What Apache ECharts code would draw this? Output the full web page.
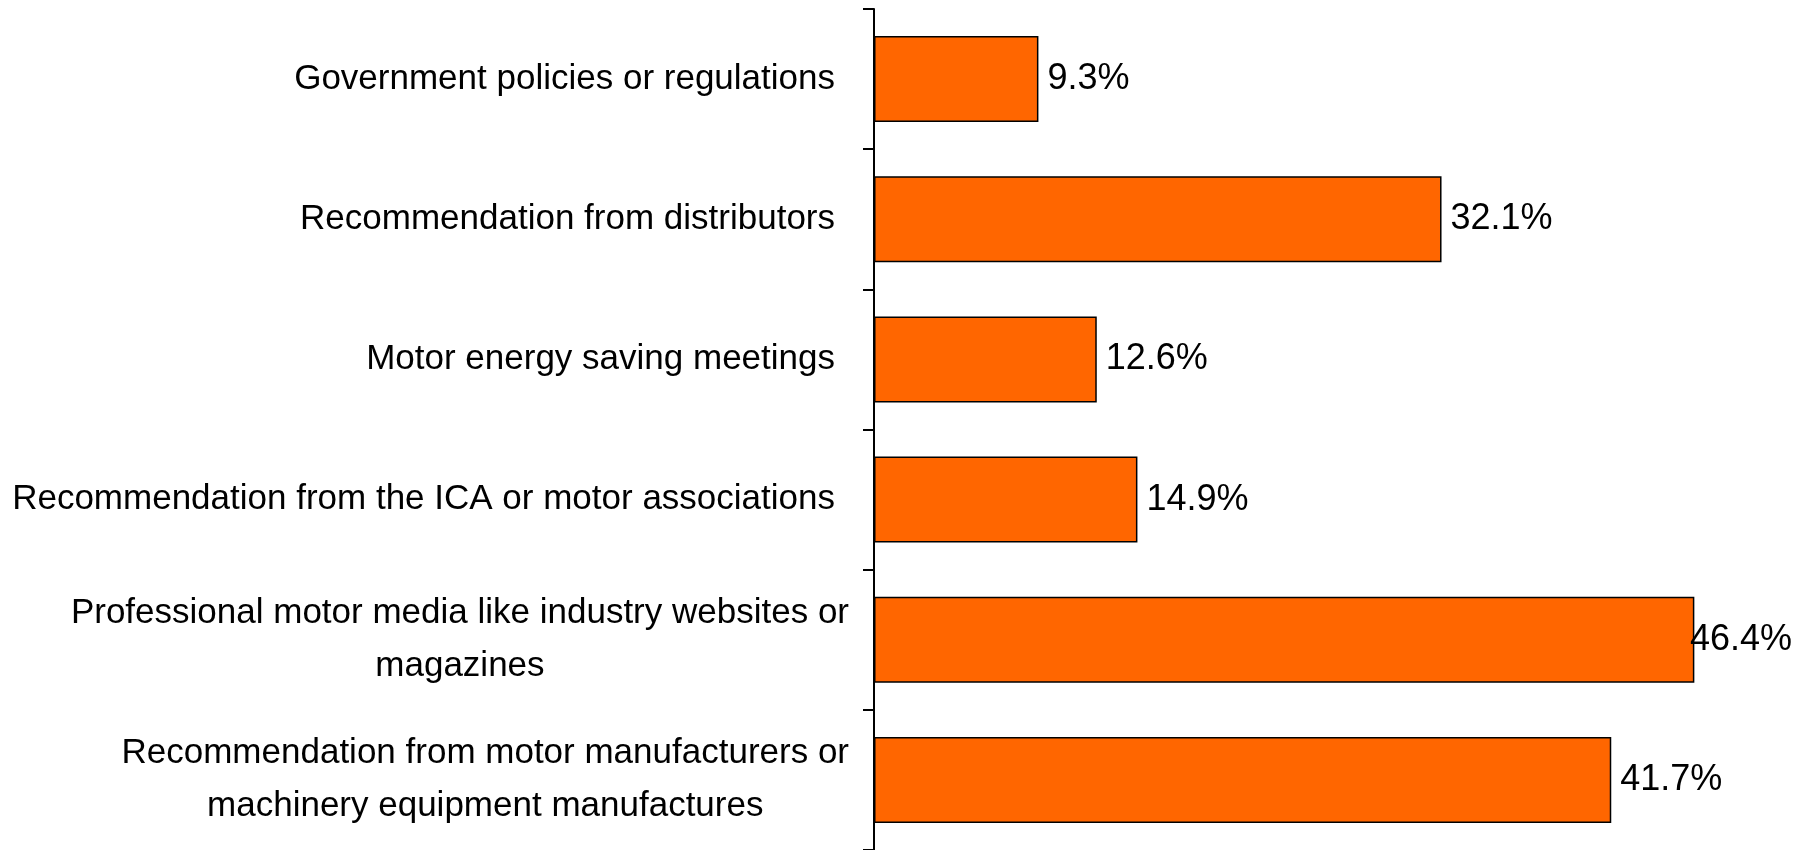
<!DOCTYPE html>
<html lang="en">

<head>
    <meta charset="UTF-8">
    <title>Information sources</title>
    <script src="https://cdn.jsdelivr.net/npm/echarts@6/dist/echarts.min.js"></script>
    <style>
        html,
        body {
            margin: 0;
            padding: 0;
            background: #fff;
        }

        #container {
            width: 1799px;
            height: 850px;
        }
    </style>
</head>

<body>
    <div id="container"></div>
</body>
<script>
    // categories from top to bottom, '\n' marks where the original label wraps
    var categories = [
        'Government policies or regulations',
        'Recommendation from distributors',
        'Motor energy saving meetings',
        'Recommendation from the ICA or motor associations',
        'Professional motor media like industry websites or\nmagazines',
        'Recommendation from motor manufacturers or\nmachinery equipment manufactures'
    ];
    var shares = [9.3, 32.1, 12.6, 14.9, 46.4, 41.7];

    var font = '"Liberation Sans", Arial, sans-serif';

    var chartDom = document.getElementById('container');
    var myChart = echarts.init(chartDom);
    var W = myChart.getWidth();

    var option = {
        animation: false,
        grid: {
            left: 874,
            right: 41,
            top: 9,
            bottom: 0,
            containLabel: false,
            outerBoundsMode: 'none'
        },
        xAxis: {
            type: 'value',
            min: 0,
            max: 50,
            show: false
        },
        yAxis: {
            type: 'category',
            inverse: true,
            data: categories,
            axisLine: { show: true, lineStyle: { color: '#000', width: 2 } },
            axisTick: { show: true, inside: false, length: 11, lineStyle: { color: '#000', width: 2 } },
            splitLine: { show: false },
            axisLabel: {
                margin: 25,
                color: '#000',
                fontFamily: font,
                fontSize: 35,
                formatter: function (v) {
                    if (v.indexOf('\n') < 0) return '{s|' + v + '}';
                    return v.split('\n').map(function (s) { return '{m|' + s + '}'; }).join('\n');
                },
                rich: {
                    s: { fontFamily: font, fontSize: 35, color: '#000', padding: [0, 14, 0, 0] },
                    m: { fontFamily: font, fontSize: 35, color: '#000', align: 'center', lineHeight: 53 }
                }
            }
        },
        series: [{
            type: 'bar',
            data: shares,
            barWidth: 86,
            itemStyle: {
                color: '#FF6600',
                borderColor: '#000',
                borderWidth: 1.5
            },
            label: {
                show: true,
                position: 'right',
                distance: 9,
                color: '#000',
                fontFamily: font,
                fontSize: 36,
                formatter: function (p) { return p.value.toFixed(1) + '%'; }
            },
            // keep labels inside the picture, like the original does for the longest bar
            labelLayout: function (params) {
                var r = params.labelRect;
                var over = r.x + r.width - (W - 7);
                return over > 0 ? { dx: -over } : {};
            }
        }]
    };

    myChart.setOption(option);
</script>

</html>
